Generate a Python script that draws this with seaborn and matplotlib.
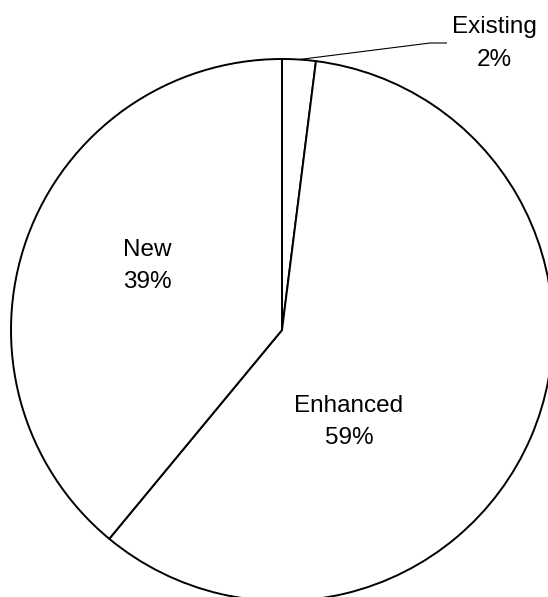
import matplotlib
matplotlib.use("Agg")
import matplotlib.pyplot as plt
import seaborn as sns
import numpy as np

# Share of items by status
categories = ["Existing", "Enhanced", "New"]
shares = [2, 59, 39]

sns.set_theme(style="white")
plt.rcParams["font.family"] = ["Liberation Sans", "DejaVu Sans"]

W, H = 548, 597
fig = plt.figure(figsize=(W / 100, H / 100), dpi=100)
fig.patch.set_facecolor("white")
ax = fig.add_axes([0, 0, 1, 1])

# pie laid out in pixel units of the canvas
cx, cy, r = 282, H - 330, 271
wedges, _ = ax.pie(
    shares,
    startangle=90,
    counterclock=False,
    center=(cx, cy),
    radius=r,
    colors=["white"] * len(shares),
    wedgeprops=dict(edgecolor="black", linewidth=1.4),
    frame=False,
)
ax.set_xlim(0, W)
ax.set_ylim(0, H)
ax.set_aspect("equal")
ax.axis("off")

labels = [f"{c}\n{v}%" for c, v in zip(categories, shares)]
label_pos = {
    "Existing": (494, H - 43.5),
    "Enhanced": (349, H - 422),
    "New": (147, H - 266),
}
for cat, lab in zip(categories, labels):
    x, y = label_pos[cat]
    ax.text(x, y, lab, ha="center", va="center", fontsize=17.5,
            color="black", linespacing=1.6)

# leader line for the small slice
w0 = wedges[0]
mid = np.deg2rad((w0.theta1 + w0.theta2) / 2)
sx, sy = cx + r * np.cos(mid), cy + r * np.sin(mid)
ax.plot([sx, 430, 447], [sy, H - 43, H - 43], color="black", lw=0.8,
        solid_capstyle="butt")

fig.savefig("out.png", dpi=100, facecolor="white")
